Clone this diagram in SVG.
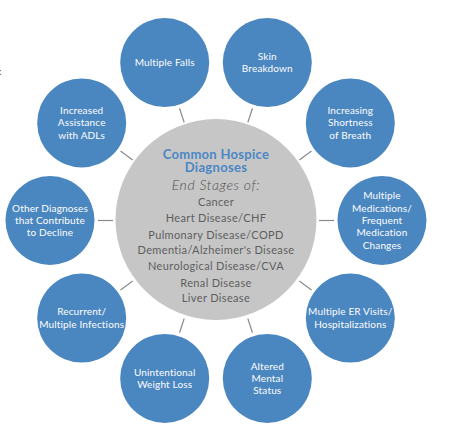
<svg xmlns="http://www.w3.org/2000/svg" width="463" height="446" viewBox="0 0 463 446">
<style>
.sat{fill:#4a86bf}
.st{fill:#fff;font-family:Lato,"Open Sans",sans-serif;font-size:10px;letter-spacing:0.15px;text-anchor:middle}
.conn line{stroke:#8a8a8a;stroke-width:1.2}
.ct{font-family:Lato,"Open Sans",sans-serif;text-anchor:middle;fill:#5e5e5e;font-size:11px;letter-spacing:0.35px}
.title{fill:#4a86c5;font-weight:bold;font-size:13px;letter-spacing:0.3px}
.ital{font-style:italic;font-size:14px;fill:#505050;font-weight:300;letter-spacing:0.6px}
</style>
<rect width="463" height="446" fill="#fff"/>
<text x="-1" y="75" font-family="Lato,sans-serif" font-size="10" fill="#555">:</text>
<g id="connectors" class="conn">
<line x1="184.2" y1="122.5" x2="179.5" y2="108.3"/>
<line x1="247.8" y1="122.5" x2="252.5" y2="108.3"/>
<line x1="299.3" y1="160" x2="311.5" y2="151.1"/>
<line x1="319" y1="220.5" x2="334" y2="220.5"/>
<line x1="299.3" y1="281" x2="311.5" y2="289.9"/>
<line x1="247.8" y1="318.5" x2="252.5" y2="332.7"/>
<line x1="184.2" y1="318.5" x2="179.5" y2="332.7"/>
<line x1="132.7" y1="281" x2="120.5" y2="289.9"/>
<line x1="113" y1="220.5" x2="98" y2="220.5"/>
<line x1="132.7" y1="160" x2="120.5" y2="151.1"/>
</g>
<g id="center">
<circle cx="216" cy="219.5" r="100.5" fill="#c6c6c6"/>
<text class="ct title" x="216" y="158.5">Common Hospice</text>
<text class="ct title" x="216" y="172">Diagnoses</text>
<text class="ct ital" x="216" y="189.5">End Stages of:</text>
<text class="ct" x="216" y="205.5">Cancer</text>
<text class="ct" x="216" y="222">Heart Disease/CHF</text>
<text class="ct" x="216" y="238.5">Pulmonary Disease/COPD</text>
<text class="ct" x="216" y="254">Dementia/Alzheimer's Disease</text>
<text class="ct" x="216" y="270">Neurological Disease/CVA</text>
<text class="ct" x="216" y="286.5">Renal Disease</text>
<text class="ct" x="216" y="302">Liver Disease</text>
</g>
<g id="n-falls">
<circle class="sat" cx="164.7" cy="62.6" r="44.5"/>
<text class="st" x="164.7" y="66">Multiple Falls</text>
</g>
<g id="n-skin">
<circle class="sat" cx="267.3" cy="62.6" r="44.5"/>
<text class="st" x="267.3" y="60"><tspan x="267.3">Skin</tspan><tspan x="267.3" dy="12.3">Breakdown</tspan></text>
</g>
<g id="n-breath">
<circle class="sat" cx="350.3" cy="122.9" r="44.5"/>
<text class="st" x="350.3" y="114.1"><tspan x="350.3">Increasing</tspan><tspan x="350.3" dy="12.3">Shortness</tspan><tspan x="350.3" dy="12.3">of Breath</tspan></text>
</g>
<g id="n-meds">
<circle class="sat" cx="382" cy="220.5" r="44.5"/>
<text class="st" x="382" y="199.4"><tspan x="382">Multiple</tspan><tspan x="382" dy="12.3">Medications/</tspan><tspan x="382" dy="12.3">Frequent</tspan><tspan x="382" dy="12.3">Medication</tspan><tspan x="382" dy="12.3">Changes</tspan></text>
</g>
<g id="n-er">
<circle class="sat" cx="350.3" cy="318.1" r="44.5"/>
<text class="st" x="350.3" y="315.4"><tspan x="350.3">Multiple ER Visits/</tspan><tspan x="350.3" dy="12.3">Hospitalizations</tspan></text>
</g>
<g id="n-mental">
<circle class="sat" cx="267.3" cy="378.4" r="44.5"/>
<text class="st" x="267.3" y="369.6"><tspan x="267.3">Altered</tspan><tspan x="267.3" dy="12.3">Mental</tspan><tspan x="267.3" dy="12.3">Status</tspan></text>
</g>
<g id="n-weight">
<circle class="sat" cx="164.7" cy="378.4" r="44.5"/>
<text class="st" x="164.7" y="375.7"><tspan x="164.7">Unintentional</tspan><tspan x="164.7" dy="12.3">Weight Loss</tspan></text>
</g>
<g id="n-infections">
<circle class="sat" cx="81.7" cy="318.1" r="44.5"/>
<text class="st" x="81.7" y="315.4"><tspan x="81.7">Recurrent/</tspan><tspan x="81.7" dy="12.3">Multiple Infections</tspan></text>
</g>
<g id="n-other">
<circle class="sat" cx="50" cy="220.5" r="44.5"/>
<text class="st" x="50" y="211.7"><tspan x="50">Other Diagnoses</tspan><tspan x="50" dy="12.3">that Contribute</tspan><tspan x="50" dy="12.3">to Decline</tspan></text>
</g>
<g id="n-adl">
<circle class="sat" cx="81.7" cy="122.9" r="44.5"/>
<text class="st" x="81.7" y="114.1"><tspan x="81.7">Increased</tspan><tspan x="81.7" dy="12.3">Assistance</tspan><tspan x="81.7" dy="12.3">with ADLs</tspan></text>
</g>
</svg>
